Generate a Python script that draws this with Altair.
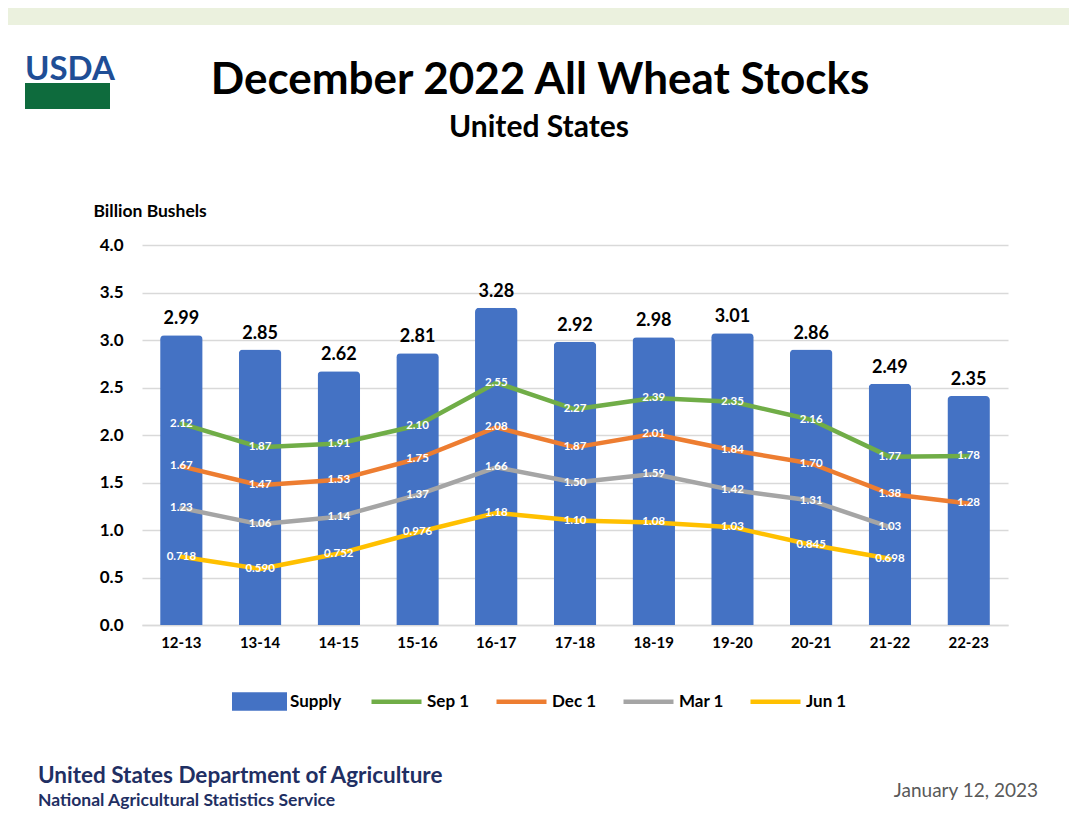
import altair as alt
import pandas as pd

years = ["12-13", "13-14", "14-15", "15-16", "16-17", "17-18", "18-19", "19-20", "20-21", "21-22", "22-23"]
supply_label = [2.99, 2.85, 2.62, 2.81, 3.28, 2.92, 2.98, 3.01, 2.86, 2.49, 2.35]
supply_bar = [3.05, 2.90, 2.67, 2.86, 3.34, 2.98, 3.03, 3.07, 2.90, 2.54, 2.41]
sep1 = [2.12, 1.87, 1.91, 2.10, 2.55, 2.27, 2.39, 2.35, 2.16, 1.77, 1.78]
dec1 = [1.67, 1.47, 1.53, 1.75, 2.08, 1.87, 2.01, 1.84, 1.70, 1.38, 1.28]
mar1 = [1.23, 1.06, 1.14, 1.37, 1.66, 1.50, 1.59, 1.42, 1.31, 1.03]
jun1 = [0.718, 0.590, 0.752, 0.976, 1.18, 1.10, 1.08, 1.03, 0.845, 0.698]
series_names = ["Sep 1", "Dec 1", "Mar 1", "Jun 1"]
series_colors = ["#70AD47", "#ED7D31", "#A5A5A5", "#FFC000"]
bar_color = "#4472C4"
y_ticks = [0, 0.5, 1.0, 1.5, 2.0, 2.5, 3.0, 3.5, 4.0]

FONT = "Lato"

bar_df = pd.DataFrame({
    "year": years,
    "v": supply_bar,
    "label": [f"{v:.2f}" for v in supply_label],
    "series": ["Supply"] * len(years),
})

rows = []
for name, vals in zip(series_names, [sep1, dec1, mar1, jun1]):
    for yr, v in zip(years, vals):
        rows.append({"year": yr, "series": name, "v": v, "label": format(v, "#.3g")})
line_df = pd.DataFrame(rows)
one = pd.DataFrame({"a": [0]})

x_axis = alt.Axis(title=None, labelAngle=0, ticks=False, domain=True, domainColor="#D9D9D9",
                  domainWidth=1.3, labelFontSize=15, labelFontWeight="bold", labelColor="#000",
                  labelPadding=10, labelFont=FONT)
x_scale = alt.Scale(paddingInner=0.46, paddingOuter=0.23)
y_axis = alt.Axis(title="Billion Bushels", titleAngle=0, titleAlign="left", titleBaseline="alphabetic",
                  titleX=-49, titleY=-29, titleFontSize=17.5, titleFontWeight="bold", titleFont=FONT,
                  titleColor="#000", domain=False, ticks=False, grid=True, gridColor="#D9D9D9",
                  gridWidth=1.3, values=y_ticks, format=".1f", labelFontSize=17, labelFontWeight="bold",
                  labelColor="#000", labelPadding=19, labelFont=FONT)
y_scale = alt.Scale(domain=[0, 4])

def X():
    return alt.X("year:N", sort=years, scale=x_scale, axis=x_axis)

def Y():
    return alt.Y("v:Q", scale=y_scale, axis=y_axis)

bars = alt.Chart(bar_df).mark_bar(cornerRadiusTopLeft=4, cornerRadiusTopRight=4).encode(
    x=X(), y=Y(),
    fill=alt.Fill("series:N", scale=alt.Scale(domain=["Supply"], range=[bar_color]),
                  legend=alt.Legend(title=None, orient="none", legendX=90, legendY=429,
                                    direction="horizontal",
                                    symbolType="M-1,-0.333L1,-0.333L1,0.333L-1,0.333Z",
                                    symbolSize=3025, symbolStrokeWidth=0, labelFontSize=17,
                                    labelFontWeight="bold", labelFont=FONT, labelColor="#000",
                                    labelOffset=3)),
)

bar_text = alt.Chart(bar_df).mark_text(baseline="bottom", dy=-7, fontSize=18, fontWeight="bold",
                                       font=FONT, color="#000").encode(
    x=X(), y=Y(), text="label:N")

lines = alt.Chart(line_df).mark_line(strokeWidth=4.5, strokeCap="round", strokeJoin="round").encode(
    x=X(), y=Y(),
    stroke=alt.Stroke("series:N", sort=series_names,
                      scale=alt.Scale(domain=series_names, range=series_colors),
                      legend=alt.Legend(title=None, orient="none", legendX=227, legendY=429,
                                        direction="horizontal", symbolType="stroke",
                                        symbolSize=2500, symbolStrokeWidth=4.5, columnPadding=17,
                                        labelFontSize=17, labelFontWeight="bold", labelFont=FONT,
                                        labelColor="#000", labelOffset=3)),
)

line_text = alt.Chart(line_df).mark_text(fontSize=11.5, fontWeight="bold", font=FONT,
                                         color="#FFFFFF", baseline="middle").encode(
    x=X(), y=Y(), text="label:N")

band = alt.Chart(one).mark_rect(color="#EBF1DE").encode(
    x=alt.value(-150), x2=alt.value(940), y=alt.value(-245), y2=alt.value(-220))

usda_block = alt.Chart(one).mark_rect(color="#0E6B3D").encode(
    x=alt.value(-117), x2=alt.value(-32), y=alt.value(-162), y2=alt.value(-136))
usda_text = alt.Chart(one).mark_text(text="USDA", font=FONT, fontSize=33, fontWeight="bold",
                                     color="#1F4E96", align="left", baseline="alphabetic").encode(
    x=alt.value(-117), y=alt.value(-165))

title = alt.Chart(one).mark_text(text="December 2022 All Wheat Stocks", font=FONT, fontSize=44,
                                 fontWeight="bold", color="#000", align="center",
                                 baseline="alphabetic").encode(x=alt.value(398), y=alt.value(-151))
subtitle = alt.Chart(one).mark_text(text="United States", font=FONT, fontSize=30, fontWeight="bold",
                                    color="#000", align="center", baseline="alphabetic").encode(
    x=alt.value(397), y=alt.value(-108))

foot1 = alt.Chart(one).mark_text(text="United States Department of Agriculture", font=FONT,
                                 fontSize=22.5, fontWeight="bold", color="#1F2F63", align="left",
                                 baseline="alphabetic").encode(x=alt.value(-104), y=alt.value(538))
foot2 = alt.Chart(one).mark_text(text="National Agricultural Statistics Service", font=FONT,
                                 fontSize=17.5, fontWeight="bold", color="#1F2F63", align="left",
                                 baseline="alphabetic").encode(x=alt.value(-104), y=alt.value(561))
date = alt.Chart(one).mark_text(text="January 12, 2023", font=FONT, fontSize=19, color="#595959",
                                align="right", baseline="alphabetic").encode(
    x=alt.value(896), y=alt.value(552))

chart = alt.layer(
    band, usda_block, usda_text, title, subtitle,
    bars, bar_text, lines, line_text,
    foot1, foot2, date,
).resolve_scale(x="shared", y="shared").properties(
    width=866, height=380,
    autosize=alt.AutoSizeParams(type="none"),
    padding={"left": 134, "top": 237, "right": 61, "bottom": 187},
    background="#FFFFFF",
).configure_view(stroke=None)

chart.save("out.html", embed_options={"renderer": "svg", "actions": False})
